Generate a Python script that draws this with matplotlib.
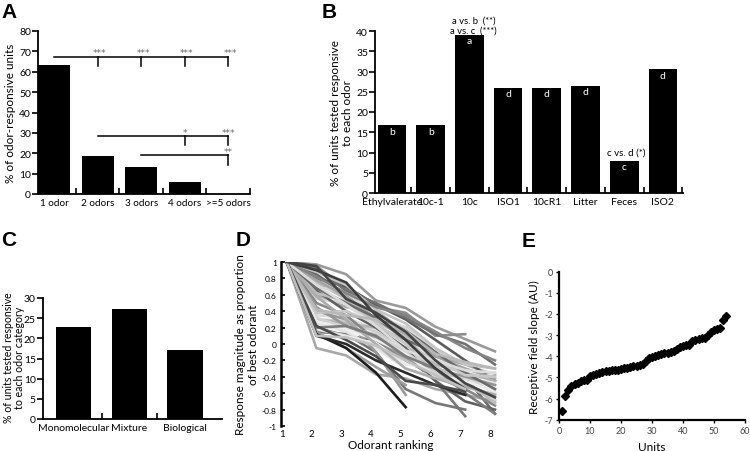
import matplotlib
matplotlib.use('Agg')
import matplotlib.pyplot as plt

plt.rcParams['font.family'] = ['Lato', 'DejaVu Sans']
plt.rcParams['axes.unicode_minus'] = False
plt.rcParams['axes.linewidth'] = 1.3

# ---- panel A: number of odors a unit responds to
n_odors = ['1 odor', '2 odors', '3 odors', '4 odors', '>=5 odors']
pct_units = [63.2, 18.7, 13.2, 5.9, 0.0]

# ---- panel B: responsiveness per odor
odorants = ['Ethylvalerate', '10c-1', '10c', 'ISO1', '10cR1', 'Litter', 'Feces', 'ISO2']
pct_each = [16.7, 16.7, 39.1, 26.0, 26.0, 26.4, 7.9, 30.5]
groups = ['b', 'b', 'a', 'd', 'd', 'd', 'c', 'd']

# ---- panel C: per odor category
categories = ['Monomolecular', 'Mixture', 'Biological']
pct_cat = [22.9, 27.2, 17.0]

# ---- panel D: normalized response vs rank
rank_x = [1.17, 2.17, 3.17, 4.17, 5.17, 6.17, 7.17, 8.17]
resp = [
    [1, 0.97, 0.85, 0.53, 0.44, 0.21, 0.06, -0.09],
    [1, -0.05, -0.14, -0.37, -0.42, -0.55, -0.62, -0.70],
    [1, 0.30, 0.28, 0.15, -0.05, -0.35, -0.42, -0.50],
    [1, 0.95, 0.68, 0.45, 0.38, 0.10, 0.12],
    [1, 0.20, 0.10, 0.05, -0.15, -0.45, -0.88],
    [1, 0.85, 0.60, 0.30, 0.20, -0.10, -0.40, -0.85],
    [1, 0.75, 0.55, 0.25, 0.00, -0.35, -0.52, -0.62],
    [1, 0.15, 0.12, -0.10, -0.55, -0.72, -0.80],
    [1, 0.35, 0.32, 0.18, 0.10, -0.20, -0.30, -0.40],
    [1, 0.60, 0.45, 0.40, 0.15, -0.15, -0.25, -0.38],
    [1, 0.80, 0.70, 0.48, 0.30, 0.05, -0.20, -0.45],
    [1, 0.55, 0.50, 0.25, -0.10, -0.25, -0.35, -0.55],
    [1, 0.25, 0.15, -0.05, -0.30, -0.40, -0.48, -0.35],
    [1, 0.40, 0.30, -0.10, -0.62],
    [1, 0.92, 0.65, 0.50, 0.32, 0.12, 0.00, -0.25],
    [1, 0.70, 0.62, 0.35, 0.20, -0.05, -0.40, -0.60],
    [1, 0.30, 0.25, 0.20, 0.05, -0.25, -0.35, -0.45],
    [1, 0.50, 0.35, 0.05, -0.20, -0.40, -0.55, -0.75],
    [1, 0.65, 0.40, 0.20, -0.05, -0.45, -0.70, -0.80],
    [1, 0.18, 0.10, 0.00, -0.25, -0.30, -0.42, -0.48],
    [1, 0.88, 0.72, 0.42, 0.25, -0.05, -0.25, -0.30],
    [1, 0.78, 0.58, 0.30, 0.12, -0.15, -0.30, -0.42],
    [1, 0.32, 0.20, 0.12, -0.10, -0.35, -0.50, -0.68],
    [1, 0.45, 0.22, 0.08, -0.18, -0.30, -0.40, -0.50],
    [1, 0.62, 0.52, 0.28, 0.08, -0.28, -0.45, -0.72],
    [1, 0.82, 0.62, 0.45, 0.35, 0.15, -0.05, -0.20],
    [1, 0.28, 0.18, 0.05, -0.12, -0.40, -0.45, -0.58],
    [1, 0.58, 0.30, 0.00, -0.30, -0.42, -0.52, -0.62],
    [1, 0.68, 0.50, 0.32, 0.05, -0.10, -0.35, -0.55],
    [1, 0.38, 0.40, 0.25, 0.00, -0.20, -0.38, -0.40],
    [1, 0.15, -0.05, -0.28, -0.50],
    [1, 0.72, 0.48, 0.22, -0.08, -0.20, -0.32, -0.35],
    [1, 0.42, 0.35, 0.30, 0.15, -0.12, -0.22, -0.30],
    [1, 0.20, 0.22, 0.10, -0.15, -0.30, -0.60, -0.85],
    [1, 0.90, 0.75, 0.35, 0.05, -0.30, -0.55],
    [1, 0.12, -0.05, -0.35, -0.77],
    [1, 0.10, 0.00, -0.20, -0.35, -0.50, -0.62],
    [1, 0.22, 0.05, -0.15, -0.45, -0.50, -0.58],
    [1, 0.10, 0.08, -0.02, -0.20, -0.38, -0.55],
    [1, 0.95, 0.55, 0.38, 0.15, -0.20, -0.48, -0.65],
]
resp_grey = ['#9a9a9a', '#a8a8a8', '#cccccc', '#8c8c8c', '#7a7a7a', '#6a6a6a',
             '#bbbbbb', '#777777', '#dddddd', '#aaaaaa', '#5a5a5a', '#cfcfcf',
             '#e2e2e2', '#999999', '#707070', '#d5d5d5', '#b4b4b4', '#888888',
             '#606060', '#e8e8e8', '#c4c4c4', '#a4a4a4', '#d2d2d2', '#969696',
             '#bdbdbd', '#848484', '#ececec', '#acacac', '#6c6c6c', '#c8c8c8',
             '#9e9e9e', '#dcdcdc', '#b8b8b8', '#7c7c7c', '#3c3c3c', '#1c1c1c',
             '#2a2a2a', '#4a4a4a', '#c0c0c0', '#444444']

# ---- panel E: receptive field slopes
units = list(range(1, 55))
slopes = [-6.6, -5.9, -5.6, -5.4, -5.3, -5.25, -5.15, -5.1, -5.1, -4.95,
          -4.9, -4.85, -4.8, -4.75, -4.7, -4.7, -4.65, -4.65, -4.65, -4.6,
          -4.55, -4.55, -4.5, -4.45, -4.45, -4.4, -4.35, -4.2, -4.1, -4.05,
          -4.0, -3.95, -3.9, -3.85, -3.85, -3.8, -3.75, -3.65, -3.55, -3.5,
          -3.45, -3.45, -3.3, -3.25, -3.2, -3.15, -3.15, -3.0, -2.85, -2.75,
          -2.7, -2.65, -2.3, -2.1]

W, H = 750, 452
fig = plt.figure(figsize=(W / 100, H / 100), dpi=100)


def px_axes(left, top, right, bottom):
    return fig.add_axes([left / W, 1 - bottom / H, (right - left) / W, (bottom - top) / H])


def bar_style(ax, lsize=7.5):
    for s in ['top', 'right']:
        ax.spines[s].set_visible(False)
    ax.tick_params(axis='y', direction='out', length=4, width=1.2, labelsize=7.5, pad=1)
    ax.tick_params(axis='x', which='major', length=0, labelsize=lsize, pad=3)
    ax.tick_params(axis='x', which='minor', direction='in', length=4, width=1.2)


# A
axA = px_axes(38, 32, 250, 195)
xa = list(range(len(n_odors)))
axA.bar(xa, pct_units, width=0.73, color='black')
axA.set_xlim(-0.37, 4.5)
axA.set_ylim(0, 80)
axA.set_yticks(range(0, 81, 10))
axA.set_xticks(xa)
axA.set_xticklabels(n_odors)
axA.set_xticks([0.5, 1.5, 2.5, 3.5, 4.5], minor=True)
bar_style(axA, 7.2)
axA.set_ylabel('% of odor-responsive units', fontsize=8.5, labelpad=2)

star_c = '#6a6a6a'
skw = dict(ha='center', va='bottom', fontsize=6.5, color=star_c, family='DejaVu Sans')
kw = dict(color='black', lw=1.1, clip_on=False)
axA.plot([0, 4], [67.4, 67.4], **kw)
for xi in [1, 2, 3, 4]:
    axA.plot([xi, xi], [67.4, 63], **kw)
    axA.text(xi + 0.05, 67.0, '***', **skw)
axA.plot([1, 4], [28.5, 28.5], **kw)
axA.plot([3, 3], [28.5, 24], **kw)
axA.plot([4, 4], [28.5, 24], **kw)
axA.text(3, 28.2, '*', **skw)
axA.text(4, 28.2, '***', **skw)
axA.plot([2, 4], [19.1, 19.1], **kw)
axA.plot([4, 4], [19.1, 14.3], **kw)
axA.text(4, 18.8, '**', **skw)

# B
axB = px_axes(375, 32, 683, 194)
xb = list(range(len(odorants)))
axB.bar(xb, pct_each, width=0.74, color='black')
axB.set_xlim(-0.44, 7.52)
axB.set_ylim(0, 40)
axB.set_yticks(range(0, 41, 5))
axB.set_xticks(xb)
axB.set_xticklabels(odorants)
axB.set_xticks([i + 0.5 for i in xb], minor=True)
bar_style(axB)
axB.set_ylabel('% of units tested responsive\nto each odor', fontsize=8.5, labelpad=2,
               linespacing=1.15)
for xi, v, g in zip(xb, pct_each, groups):
    axB.text(xi, v - 1.4, g, ha='center', va='center', fontsize=7.5, color='white')
axB.text(2.1, 42.7, 'a vs. b  (**)', ha='center', va='center', fontsize=6.8, clip_on=False)
axB.text(2.1, 40.2, 'a vs. c  (***)', ha='center', va='center', fontsize=6.8, clip_on=False)
axB.text(6.05, 10.1, 'c vs. d (*)', ha='center', va='center', fontsize=7)

# C
axC = px_axes(42.7, 299, 221.7, 420)
xc = list(range(len(categories)))
axC.bar(xc, pct_cat, width=0.63, color='black')
axC.set_xlim(-0.56, 2.66)
axC.set_ylim(0, 30)
axC.set_yticks(range(0, 31, 5))
axC.set_xticks(xc)
axC.set_xticklabels(categories)
axC.set_xticks([0.5, 1.5], minor=True)
bar_style(axC)
fig.text(14 / W, 1 - 358 / H, '% of units tested responsive\nto each odor category',
         rotation=90, ha='center', va='center', fontsize=7.6, linespacing=1.0,
         multialignment='center')

# D
axD = px_axes(281, 263, 500, 427)
for vals, c in zip(resp, resp_grey):
    axD.plot(rank_x[:len(vals)], vals, color=c, lw=1.9, solid_joinstyle='miter')
axD.set_xlim(0.98, 8.34)
axD.set_ylim(-1, 1)
axD.set_yticks([1, 0.8, 0.6, 0.4, 0.2, 0, -0.2, -0.4, -0.6, -0.8, -1])
axD.set_yticklabels(['1', '0.8', '0.6', '0.4', '0.2', '0', '-0.2', '-0.4', '-0.6', '-0.8', '-1'])
axD.set_xticks([1, 2, 3, 4, 5, 6, 7, 8])
for s in ['top', 'right', 'bottom']:
    axD.spines[s].set_visible(False)
axD.spines['left'].set_linewidth(1.8)
axD.tick_params(axis='y', direction='in', length=3, width=1.2, labelsize=6, pad=3)
axD.tick_params(axis='x', length=0, labelsize=7, pad=2)
axD.set_xlabel('Odorant ranking', fontsize=8.5, labelpad=1)
axD.set_ylabel('Response magnitude as proportion\nof best odorant', fontsize=8.5,
               labelpad=2, linespacing=1.25)

# E
axE = px_axes(559, 272.7, 745, 420.7)
axE.plot(units, slopes, linestyle='none', marker='D', markersize=4.5, color='black')
axE.set_xlim(0, 60)
axE.set_ylim(-7, 0)
axE.set_xticks(range(0, 61, 10))
axE.set_yticks(range(-7, 1))
for s in ['top', 'right']:
    axE.spines[s].set_visible(False)
axE.spines['left'].set_linewidth(1.6)
axE.spines['bottom'].set_linewidth(1.6)
axE.tick_params(direction='out', length=2.5, width=1, labelsize=6.5, pad=2,
                labelcolor='#444444')
axE.set_xlabel('Units', fontsize=8.5, labelpad=4)
axE.set_ylabel('Receptive field slope (AU)', fontsize=8.5, labelpad=3)

# panel letters
for lab, x, y in [('A', 1, 3), ('B', 322, 3), ('C', 1, 231), ('D', 236, 231), ('E', 522, 232)]:
    fig.text(x / W, 1 - y / H, lab, fontsize=15, fontweight='bold', va='top', ha='left',
             family='Liberation Sans')

fig.savefig('out.png', dpi=100)
